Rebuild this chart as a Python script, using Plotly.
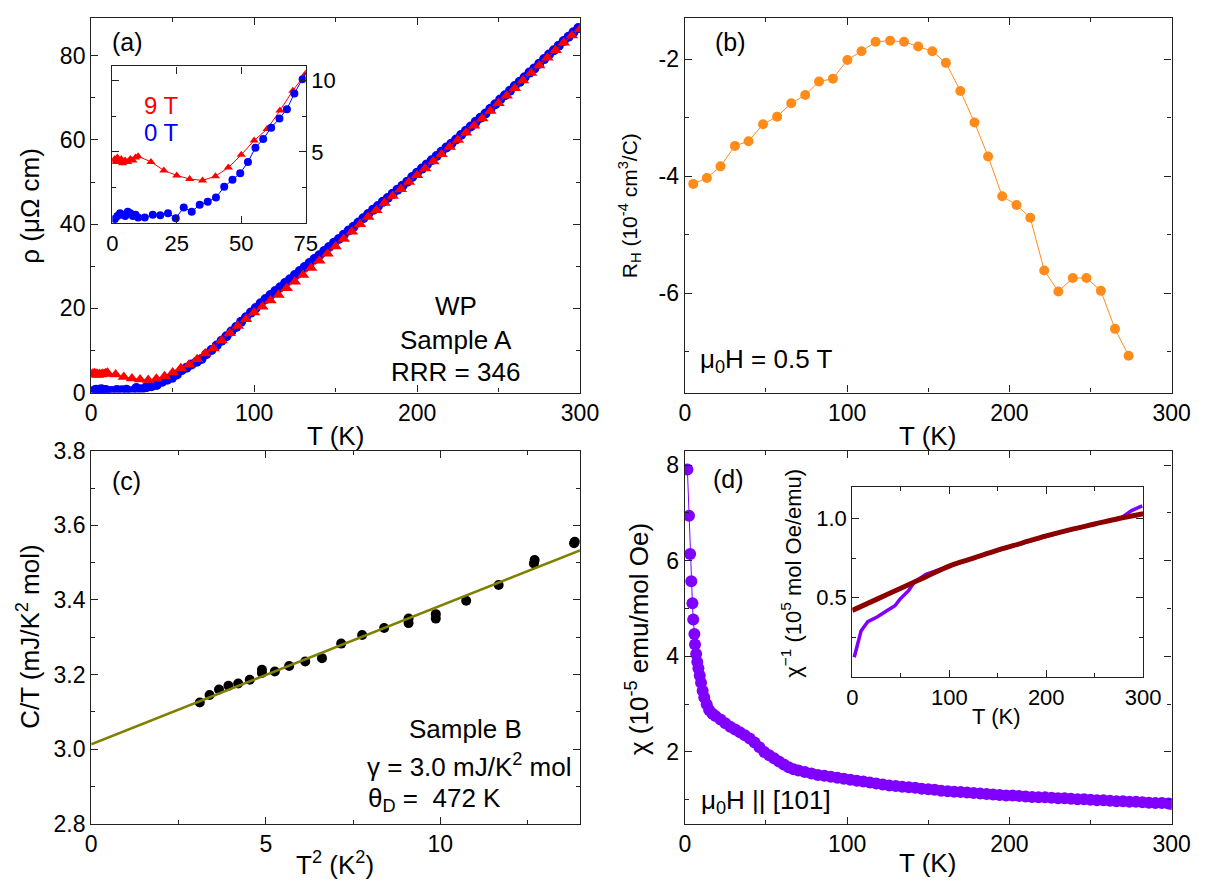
import plotly.graph_objects as go

W, H = 1220, 892
FONT = "Liberation Sans, Arial, Helvetica, sans-serif"


def px(x):
    return x / W


def py(y):
    return 1 - y / H


# ---------------- Panel (a): resistivity ----------------
rho0_T = [1, 2, 3, 4, 5, 6, 7, 8, 9, 10, 12.6, 15.7, 18.6, 21.6, 24.6, 27.7, 30.8, 33.9, 37, 40.2,
          43.4, 46.6, 49.6, 52.6, 55.5, 58.5, 61.6, 64.8, 67.7, 70.6, 73.8,
          77, 80, 83, 86, 89, 92, 95, 98, 101, 104, 107, 110, 113, 116, 119, 122, 125, 128, 131, 134,
          137, 140, 143, 146, 149, 152, 155, 158, 161, 164, 167, 170, 173, 176, 179, 182, 185, 188,
          191, 194, 197, 200, 203, 206, 209, 212, 215, 218, 221, 224, 227, 230, 233, 236, 239, 242,
          245, 248, 251, 254, 257, 260, 263, 266, 269, 272, 275, 278, 281, 284, 287, 290, 293, 296, 299]
rho0 = [0.3, 0.5, 0.7, 0.6, 0.5, 0.8, 0.7, 0.5, 0.6, 0.4, 0.4, 0.6, 0.55, 0.7, 0.35, 1.1, 0.8, 1.3, 1.5, 1.8,
        2.55, 3.05, 3.5, 4.3, 5.3, 5.9, 6.7, 7.35, 8.0, 9.1, 10.1,
        11.2, 12.3, 13.4, 14.5, 15.6, 16.8, 17.9, 19.0, 20.1, 21.2, 22.2, 23.2, 24.1, 25.0, 26.0, 26.9, 27.9,
        28.9, 29.8, 30.8, 31.7, 32.6, 33.6, 34.6, 35.6, 36.5, 37.5, 38.5, 39.4, 40.4, 41.4, 42.4, 43.4,
        44.3, 45.3, 46.2, 47.2, 48.2, 49.1, 50.1, 51.2, 52.2, 53.2, 54.2, 55.2, 56.2, 57.2, 58.2, 59.1,
        60.1, 61.2, 62.2, 63.2, 64.3, 65.3, 66.3, 67.4, 68.5, 69.6, 70.6, 71.7, 72.8, 73.8, 74.9, 76.0,
        77.0, 78.1, 79.2, 80.3, 81.3, 82.4, 83.5, 84.5, 85.6, 86.6]

rho9_T = [0.5, 1, 1.5, 2, 2.5, 3, 3.5, 4, 5, 6, 7, 8, 9, 10,
          15, 20, 25, 30, 35, 40, 45, 50, 55, 60, 65, 70, 75, 80, 85, 90, 95, 100, 105, 110, 115, 120,
          125, 130, 135, 140, 145, 150, 155, 160, 165, 170, 175, 180, 185, 190, 195, 200, 205, 210,
          215, 220, 225, 230, 235, 240, 245, 250, 255, 260, 265, 270, 275, 280, 285, 290, 295, 300]
rho9 = [4.4, 4.5, 4.3, 4.6, 4.4, 4.3, 4.5, 4.2, 4.4, 4.3, 4.5, 4.4, 4.6, 4.7,
        4.3, 3.7, 3.35, 3.1, 3.0, 3.3, 3.9, 4.8, 5.8, 6.6, 7.9, 9.3, 10.5, 12.4, 14.1, 15.8, 17.4, 19.0,
        20.4, 21.9, 23.2, 24.8, 26.3, 27.9, 29.6, 31.3, 33.0, 34.7, 36.5, 38.2, 40.0, 41.7, 43.3, 45.0,
        46.7, 48.3, 50.0, 51.6, 53.2, 54.9, 56.6, 58.3, 60.0, 61.7, 63.4, 65.1, 66.9, 68.7, 70.5, 72.3,
        74.1, 75.9, 77.7, 79.5, 81.3, 83.1, 84.8, 86.3]

# ---------------- Panel (b): Hall coefficient ----------------
RH_T = [5.2, 13.6, 22.0, 30.9, 39.3, 48.2, 56.9, 65.6, 74.2, 82.7, 91.3, 100.2, 108.9, 117.6, 126.5,
        135.1, 143.8, 152.5, 160.9, 169.8, 178.5, 186.9, 195.6, 204.4, 212.9, 221.5, 230.2, 239.1,
        247.5, 256.4, 265.1, 273.5]
RH = [-4.13, -4.03, -3.83, -3.48, -3.40, -3.11, -2.98, -2.75, -2.61, -2.38, -2.33, -2.01, -1.86, -1.70,
      -1.68, -1.70, -1.78, -1.86, -2.06, -2.54, -3.08, -3.66, -4.34, -4.49, -4.71, -5.61, -5.97, -5.74,
      -5.74, -5.96, -6.61, -7.07]

# ---------------- Panel (c): specific heat ----------------
CT_T2 = [3.11, 3.39, 3.66, 3.93, 4.21, 4.54, 4.89, 4.89, 5.26, 5.67, 6.13, 6.61, 7.16, 7.76, 8.39,
         9.09, 9.09, 9.87, 9.87, 10.74, 11.67, 12.68, 12.70, 13.83, 13.85]
CT = [3.125, 3.145, 3.160, 3.170, 3.176, 3.186, 3.204, 3.213, 3.208, 3.223, 3.235, 3.244, 3.283,
      3.306, 3.325, 3.338, 3.350, 3.350, 3.362, 3.398, 3.440, 3.498, 3.507, 3.552, 3.556]
fit_T2 = [0, 14]
fit_CT = [3.013, 3.533]

# ---------------- Panel (d): susceptibility ----------------
chi_T = [1.6, 2.6, 3.3, 4.0, 4.7, 5.2, 5.9, 6.3, 7.0, 7.7, 8.4, 9.2, 10, 11, 12, 13.5, 15, 17, 19, 22,
         25, 28, 31, 34, 37, 40, 43, 46, 49, 52, 55, 58, 61, 64, 67, 70, 74, 78, 82, 86, 90, 94, 98,
         102, 106, 110, 114, 118, 122, 126, 130, 134, 138, 142, 146, 150, 154, 158, 162, 166, 170,
         174, 178, 182, 186, 190, 194, 198, 202, 206, 210, 214, 218, 222, 226, 230, 234, 238, 242,
         246, 250, 254, 258, 262, 266, 270, 274, 278, 282, 286, 290, 294, 298, 300]
chi = [7.91, 6.94, 6.14, 5.57, 5.11, 4.77, 4.47, 4.25, 4.05, 3.88, 3.75, 3.60, 3.45, 3.28, 3.14, 3.00,
       2.88, 2.80, 2.75, 2.68, 2.60, 2.53, 2.47, 2.41, 2.35, 2.28, 2.20, 2.10, 2.00, 1.93, 1.87, 1.80,
       1.74, 1.68, 1.64, 1.61, 1.58, 1.55, 1.52, 1.50, 1.48, 1.46, 1.44, 1.42, 1.40, 1.38, 1.36, 1.34,
       1.32, 1.30, 1.29, 1.27, 1.26, 1.25, 1.23, 1.22, 1.21, 1.19, 1.18, 1.17, 1.16, 1.15, 1.14, 1.13,
       1.12, 1.11, 1.10, 1.09, 1.09, 1.08, 1.07, 1.06, 1.05, 1.05, 1.04, 1.03, 1.03, 1.02, 1.01, 1.01,
       1.00, 0.99, 0.99, 0.98, 0.97, 0.97, 0.96, 0.96, 0.95, 0.94, 0.93, 0.93, 0.92, 0.91]

inv_T = [2, 6, 9, 16, 26, 36, 44, 49, 58, 64, 76, 100, 125, 150, 175, 200, 225, 250, 265, 278, 288, 299]
inv_chi = [0.125, 0.23, 0.29, 0.35, 0.38, 0.42, 0.45, 0.49, 0.545, 0.60, 0.648, 0.70, 0.752, 0.80,
           0.845, 0.888, 0.928, 0.965, 0.985, 1.006, 1.05, 1.08]
fitinv_T = [0, 25, 50, 75, 100, 125, 150, 175, 200, 225, 250, 275, 300]
fitinv = [0.42, 0.49, 0.56, 0.63, 0.70, 0.75, 0.80, 0.845, 0.89, 0.93, 0.965, 1.0, 1.03]

RED = "#ff0000"
BLUE = "#0000ff"
ORANGE = "#ff8c1a"
PURPLE = "#8000ff"
OLIVE = "#808000"
DARKRED = "#8c0000"

fig = go.Figure()

# (a) main
fig.add_trace(go.Scatter(x=rho0_T, y=rho0, mode="lines+markers", xaxis="x", yaxis="y",
                         line=dict(color=BLUE, width=1), marker=dict(color=BLUE, size=10, symbol="circle")))
fig.add_trace(go.Scatter(x=rho9_T, y=rho9, mode="lines+markers", xaxis="x", yaxis="y",
                         line=dict(color=RED, width=1), marker=dict(color=RED, size=11, symbol="triangle-up")))
# (a) inset
fig.add_trace(go.Scatter(x=rho9_T, y=rho9, mode="lines+markers", xaxis="x5", yaxis="y5",
                         line=dict(color=RED, width=1), marker=dict(color=RED, size=8, symbol="triangle-up")))
fig.add_trace(go.Scatter(x=rho0_T, y=rho0, mode="lines+markers", xaxis="x5", yaxis="y5",
                         line=dict(color=BLUE, width=1), marker=dict(color=BLUE, size=8, symbol="circle")))
# (b)
fig.add_trace(go.Scatter(x=RH_T, y=RH, mode="lines+markers", xaxis="x2", yaxis="y2",
                         line=dict(color=ORANGE, width=1), marker=dict(color=ORANGE, size=10)))
# (c)
fig.add_trace(go.Scatter(x=CT_T2, y=CT, mode="markers", xaxis="x3", yaxis="y3",
                         marker=dict(color="black", size=10)))
fig.add_trace(go.Scatter(x=fit_T2, y=fit_CT, mode="lines", xaxis="x3", yaxis="y3",
                         line=dict(color=OLIVE, width=2.5)))
# (d)
fig.add_trace(go.Scatter(x=chi_T, y=chi, mode="lines+markers", xaxis="x4", yaxis="y4",
                         line=dict(color=PURPLE, width=1), marker=dict(color=PURPLE, size=12)))
# (d) inset
fig.add_trace(go.Scatter(x=inv_T, y=inv_chi, mode="lines", xaxis="x6", yaxis="y6",
                         line=dict(color=PURPLE, width=3.5)))
fig.add_trace(go.Scatter(x=fitinv_T, y=fitinv, mode="lines", xaxis="x6", yaxis="y6",
                         line=dict(color=DARKRED, width=5, shape="spline")))

AXC = "#222222"


def axis(domain, rng, tickvals, ticktext=None, minor=None, anchor=None, side=None, fs=23, showlabels=True):
    d = dict(domain=domain, range=rng, anchor=anchor, showline=True, linecolor=AXC, linewidth=1.3,
             mirror="ticks", ticks="inside", ticklen=7, tickwidth=1.2, tickcolor=AXC,
             tickmode="array", tickvals=tickvals, ticktext=ticktext if ticktext else [str(v) for v in tickvals],
             showgrid=False, zeroline=False, showticklabels=showlabels,
             tickfont=dict(family=FONT, size=fs, color="black"))
    if minor is not None:
        d["minor"] = dict(tickmode="array", tickvals=minor, ticks="inside", ticklen=4, tickwidth=1.2,
                          tickcolor=AXC, showgrid=False)
    if side:
        d["side"] = side
    return d


# pixel boxes
A = (87, 586, 5, 391)
B = (693, 1190, 5, 391)
C = (87, 586, 451, 835)
D = (693, 1190, 451, 835)
IA = (108.5, 306, 55, 216.5)
ID = (864, 1161, 488, 684)


def xd(b):
    return [px(b[0]), px(b[1])]


def yd(b):
    return [py(b[3]), py(b[2])]


layout = dict(
    width=W, height=H, margin=dict(l=0, r=0, t=0, b=0),
    paper_bgcolor="white", plot_bgcolor="white", showlegend=False,
    font=dict(family=FONT, size=23, color="black"),
    xaxis=axis(xd(A), [0, 300], [0, 100, 200, 300], minor=[50, 150, 250], anchor="y"),
    yaxis=axis(yd(A), [0, 89], [0, 20, 40, 60, 80], minor=[10, 30, 50, 70], anchor="x"),
    xaxis2=axis(xd(B), [0, 300], [0, 100, 200, 300], minor=[50, 150, 250], anchor="y2"),
    yaxis2=axis(yd(B), [-7.7, -1.29], [-6, -4, -2], ["-6", "-4", "-2"], minor=[-7, -5, -3], anchor="x2"),
    xaxis3=axis(xd(C), [0, 14], [0, 5, 10], minor=[2.5, 7.5, 12.5], anchor="y3"),
    yaxis3=axis(yd(C), [2.8, 3.8], [2.8, 3.0, 3.2, 3.4, 3.6, 3.8], ["2.8", "3.0", "3.2", "3.4", "3.6", "3.8"],
                minor=[2.9, 3.1, 3.3, 3.5, 3.7], anchor="x3"),
    xaxis4=axis(xd(D), [0, 300], [0, 100, 200, 300], minor=[50, 150, 250], anchor="y4"),
    yaxis4=axis(yd(D), [0.5, 8.3], [2, 4, 6, 8], minor=[1, 3, 5, 7], anchor="x4"),
    xaxis5=axis(xd(IA), [0, 75], [0, 25, 50, 75], anchor="y5", fs=22),
    yaxis5=axis(yd(IA), [0, 11], [5, 10], minor=[2.5, 7.5], anchor="x5", side="right", fs=22),
    xaxis6=axis(xd(ID), [0, 300], [0, 100, 200, 300], minor=[50, 150, 250], anchor="y6", fs=22),
    yaxis6=axis(yd(ID), [0, 1.2], [0.5, 1.0], ["0.5", "1.0"], minor=[0.25, 0.75], anchor="x6", fs=22),
)
fig.update_layout(**layout)


def ann(x, y, text, size=26, color="black", xanchor="center", angle=0):
    return dict(x=px(x), y=py(y), xref="paper", yref="paper", text=text, showarrow=False,
                xanchor=xanchor, yanchor="middle", textangle=angle,
                font=dict(family=FONT, size=size, color=color))


anns = [
    # axis titles
    ann(25, 198, "ρ (μΩ cm)", angle=-90),
    ann(336, 436, "T (K)"),
    ann(636, 198, "R<sub>H</sub> (10<sup>-4</sup> cm<sup>3</sup>/C)", size=21, angle=-90),
    ann(941, 436, "T (K)"),
    ann(23, 643, "C/T (mJ/K<sup>2</sup> mol)", angle=-90),
    ann(336, 876, "T<sup>2</sup> (K<sup>2</sup>)"),
    ann(644, 645, "χ (10<sup>-5</sup> emu/mol Oe)", angle=-90),
    ann(941, 876, "T (K)"),
    ann(802, 577, "χ<sup>−1</sup> (10<sup>5</sup> mol Oe/emu)", size=22, angle=-90),
    ann(1011, 725, "T (K)", size=22),
    # panel labels & texts
    ann(124, 30, "(a)", size=25),
    ann(159, 95, "9 T", size=24, color=RED),
    ann(159, 123, "0 T", size=24, color=BLUE),
    ann(459, 302, "WP"),
    ann(459, 337, "Sample A"),
    ann(459, 370, "RRR = 346"),
    ann(740, 30, "(b)", size=25),
    ann(706, 358, "μ<sub>0</sub>H = 0.5 T", xanchor="left"),
    ann(123, 482, "(c)", size=25),
    ann(469, 737, "Sample B"),
    ann(367, 775, "γ = 3.0 mJ/K<sup>2</sup> mol", xanchor="left"),
    ann(368, 810, "θ<sub>D</sub> =  472 K", xanchor="left"),
    ann(738, 480, "(d)", size=25),
    ann(708, 812, "μ<sub>0</sub>H || [101]", xanchor="left"),
]
fig.update_layout(annotations=anns)

fig.write_html("out.html", config={"displayModeBar": False},
               post_script="document.body.style.margin='0';document.body.style.padding='0';")
